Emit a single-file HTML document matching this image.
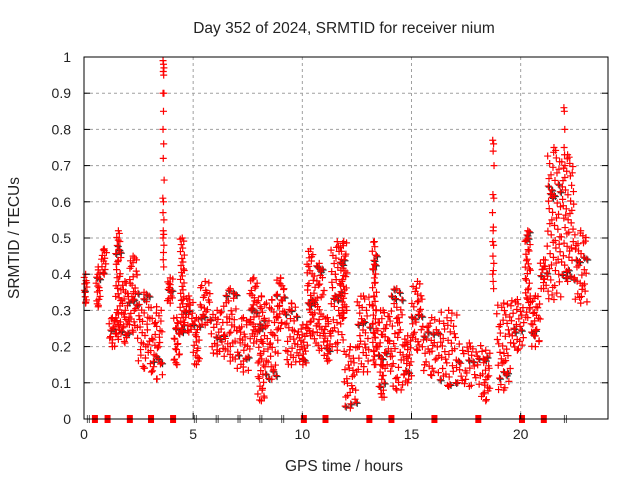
<!DOCTYPE html>
<html><head><meta charset="utf-8"><style>
body{margin:0;background:#fff;}
svg{display:block;font-family:"Liberation Sans",sans-serif;}
</style></head><body>
<svg id="chart" width="640" height="480">
<text x="344" y="33" font-size="15.5" text-anchor="middle" fill="#222">Day 352 of 2024, SRMTID for receiver nium</text>
<text x="344" y="471" font-size="15.5" text-anchor="middle" fill="#222">GPS time / hours</text>
<text transform="translate(19,238) rotate(-90)" font-size="15.5" text-anchor="middle" fill="#222">SRMTID / TECUs</text>
<g id="grid"></g>
<g id="marks"></g>
<g id="axes"></g>
</svg>
<script>
// cluster bins: start hour, end hour, low value, high value
const binStart=[0.0,0.55,0.8,1.15,1.45,1.7,2.05,2.45,3.05,3.8,4.1,4.4,4.6,5.0,5.3,5.8,6.4,7.0,7.6,7.95,8.3,8.8,9.2,9.8,10.2,10.55,11.0,11.3,11.74,11.9,12.5,13.2,13.4,13.5,14.0,14.65,15.0,15.55,16.3,17.1,18.2,18.9,19.55,20.2,20.45,20.9,21.2,21.85,22.45];
const binEnd=[0.15,0.75,1.05,1.45,1.7,2.05,2.45,3.05,3.6,4.1,4.4,4.6,5.0,5.3,5.8,6.4,7.0,7.6,7.95,8.3,8.9,9.2,9.8,10.25,10.55,11.0,11.3,11.9,12.05,12.5,13.1,13.4,14.0,13.8,14.65,15.0,15.55,16.3,17.1,18.2,18.6,19.55,20.15,20.45,20.9,21.2,21.85,22.45,23.05];
const binLo=[0.32,0.31,0.40,0.20,0.22,0.21,0.24,0.14,0.11,0.32,0.15,0.24,0.24,0.15,0.26,0.18,0.16,0.13,0.21,0.05,0.11,0.25,0.15,0.15,0.23,0.19,0.16,0.19,0.28,0.03,0.13,0.15,0.15,0.06,0.08,0.10,0.19,0.12,0.09,0.09,0.05,0.08,0.19,0.28,0.20,0.36,0.33,0.38,0.32];
const binHi=[0.40,0.42,0.47,0.28,0.52,0.38,0.45,0.35,0.31,0.39,0.28,0.50,0.34,0.28,0.38,0.30,0.36,0.28,0.39,0.34,0.33,0.39,0.32,0.26,0.47,0.43,0.28,0.49,0.49,0.20,0.34,0.49,0.30,0.15,0.36,0.23,0.38,0.28,0.30,0.21,0.19,0.32,0.33,0.52,0.34,0.44,0.75,0.73,0.52];
// sparse spike points
const spikeT=[3.62,3.64,3.66,3.63,3.65,3.62,3.66,3.64,3.62,3.65,3.63,3.67,3.61,3.64,3.62,3.66,3.63,3.65,3.62,3.66,3.64,3.63,3.65,18.72,18.76,18.74,18.78,18.73,18.77,18.71,18.75,18.74,18.72,18.76,18.73,18.77,18.75,18.72,18.74,18.76,21.98,22.0,22.02,21.99,22.01,22.03];
const spikeV=[0.99,0.98,0.97,0.96,0.95,0.90,0.90,0.85,0.80,0.76,0.72,0.66,0.61,0.60,0.57,0.55,0.52,0.51,0.50,0.48,0.46,0.44,0.42,0.77,0.76,0.74,0.70,0.62,0.61,0.57,0.53,0.52,0.49,0.48,0.45,0.43,0.41,0.40,0.38,0.36,0.86,0.85,0.80,0.75,0.73,0.70];
// zero-value markers along baseline
const redZeroT=[0.5,1.08,2.1,3.07,4.08,10.07,11.06,13.07,14.08,16.05,18.06,20.06,21.06];
const blackZeroT=[0.2,5.1,6.1,7.1,8.1,9.1,22.05];
const xTicks=[0,5,10,15,20];
const yTicks=[0,0.1,0.2,0.3,0.4,0.5,0.6,0.7,0.8,0.9,1];
const yTickLabels=["0","0.1","0.2","0.3","0.4","0.5","0.6","0.7","0.8","0.9","1"];

const L=84,R=608,T=57,B=419;
const xs=t=>L+(t/24)*(R-L);
const ys=v=>B-v*(B-T);
const NS="http://www.w3.org/2000/svg";
function mk(tag,attrs,parent){const e=document.createElementNS(NS,tag);for(const k in attrs)e.setAttribute(k,attrs[k]);parent.appendChild(e);return e;}
const grid=document.getElementById('grid'),marks=document.getElementById('marks'),axes=document.getElementById('axes');
function halton(i,b){let f=1,r=0;while(i>0){f/=b;r+=f*(i%b);i=Math.floor(i/b);}return r;}

xTicks.forEach(t=>{
  if(t>0){const g=mk('line',{x1:xs(t),x2:xs(t),y1:T,y2:B,stroke:'#a0a0a0','stroke-dasharray':'3,3'},grid);
  
  }
  const tk=mk('line',{x1:xs(t),x2:xs(t),y1:B,y2:B-6,stroke:'#000'},axes);
  
  
  const tx=mk('text',{x:xs(t),y:B+20,'font-size':14,'text-anchor':'middle',fill:'#222'},axes);
  tx.textContent=t;
  
  
});
yTicks.forEach((v,i)=>{
  if(v>0&&v<1){const g=mk('line',{x1:L,x2:R,y1:ys(v),y2:ys(v),stroke:'#a0a0a0','stroke-dasharray':'3,3'},grid);
  
  }
  const tk=mk('line',{x1:L,x2:L+6,y1:ys(v),y2:ys(v),stroke:'#000'},axes);
  
  
  const tk2=mk('line',{x1:R,x2:R-6,y1:ys(v),y2:ys(v),stroke:'#000'},axes);
  
  
  const tx=mk('text',{x:L-13,y:ys(v)+5,'font-size':14,'text-anchor':'end',fill:'#222'},axes);
  tx.textContent=yTickLabels[i];
  
  
});
const frame=mk('rect',{x:L,y:T,width:R-L,height:B-T,fill:'none',stroke:'#000'},axes);



function plus(x,y,col,name){
  const p=mk('path',{d:`M${x-3.5},${y}h7M${x},${y-3.5}v7`,stroke:col,'stroke-width':1.2,fill:'none'},marks);
  
  
}
binStart.forEach((s,i)=>{
  const e=binEnd[i],lo=binLo[i],hi=binHi[i];
  const n=Math.max(3,Math.ceil((hi-lo)/0.009)+Math.ceil((e-s)*18));
  const pts=[];
  for(let k=0;k<n;k++){
    const g=k===0?0:(k===1?1:halton(k+7*i,3));
    const f=k<2?0.5:halton(k+7*i,2);
    pts.push([s+(e-s)*f,lo+(hi-lo)*g]);
  }
  pts.forEach((p,k)=>{if(k%9===4) plus(xs(p[0])+1,ys(p[1])+1,'#333','black-point');});
  pts.forEach(p=>plus(xs(p[0]),ys(p[1]),'#f00','red-point'));
});
spikeT.forEach((t,i)=>plus(xs(t),ys(spikeV[i]),'#f00','spike-point'));
redZeroT.forEach(t=>{
  const r=mk('rect',{x:xs(t)-3,y:B-4,width:6,height:8,fill:'#f00'},marks);
  
  
});
blackZeroT.forEach(t=>{
  const p=mk('path',{d:`M${xs(t)-1},${B-4}v8M${xs(t)+1},${B-4}v8`,stroke:'#555','stroke-width':1},marks);
  
  
});
</script>
</body></html>
